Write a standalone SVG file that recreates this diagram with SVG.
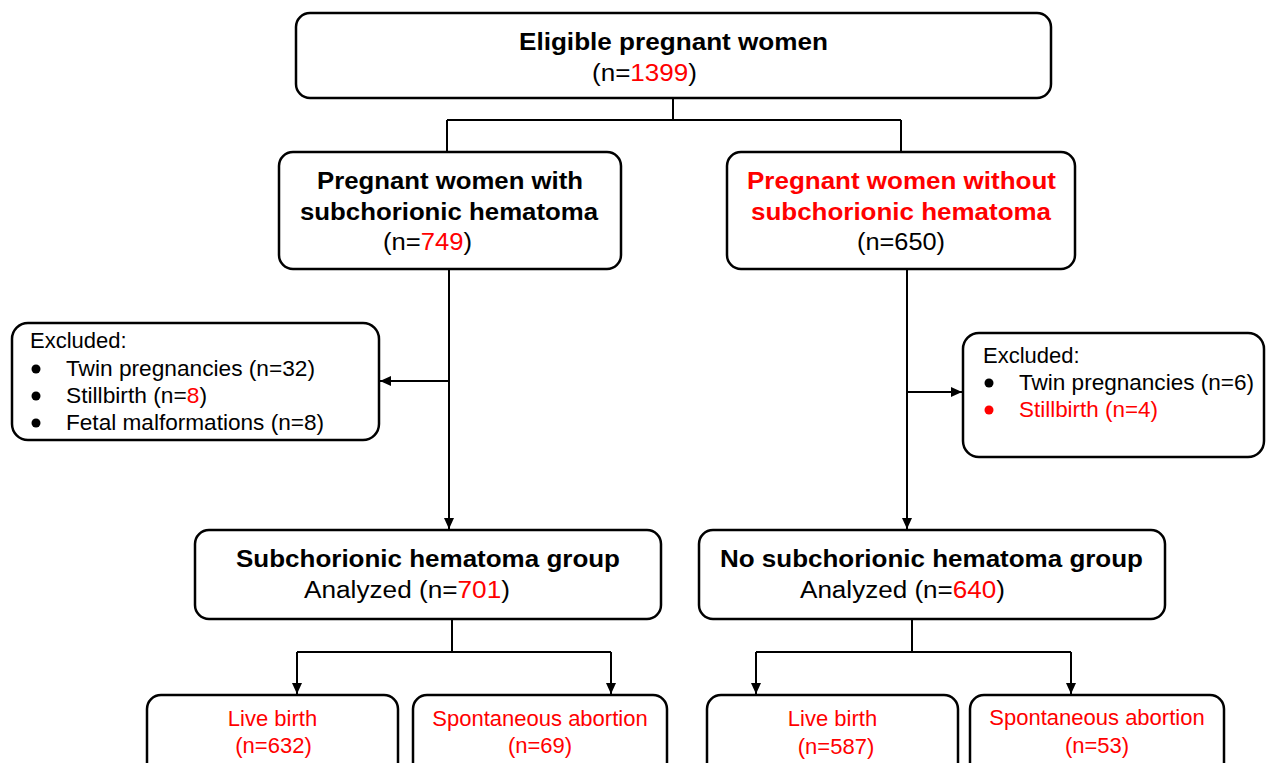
<svg xmlns="http://www.w3.org/2000/svg" width="1266" height="763" viewBox="0 0 1266 763">
<defs>
<style>
.box{fill:#fff;stroke:#000;stroke-width:2.5}
.ln{fill:none;stroke:#000;stroke-width:2}
.arr{marker-end:url(#ah)}
text{font-family:"Liberation Sans",Arial,sans-serif;font-size:22px;fill:#000}
.b{font-weight:bold;font-size:23px}
.m{font-size:23px}
.r{fill:#ff0000}
.c{text-anchor:middle}
</style>
<marker id="ah" markerUnits="userSpaceOnUse" markerWidth="11" markerHeight="10" refX="11" refY="5" orient="auto">
<path d="M0,0 L11,5 L0,10 z" fill="#000"/>
</marker>
</defs>
<rect width="1266" height="763" fill="#fff"/>

<g id="connectors">
<path class="ln" d="M673,98 V120 M447,120 H901 M447,120 V152 M901,120 V152"/>
<path class="ln arr" d="M449,269 V529"/>
<path class="ln arr" d="M449,381 H380"/>
<path class="ln arr" d="M907,269 V529"/>
<path class="ln arr" d="M907,392 H962"/>
<path class="ln" d="M452,619 V652 M297,652 H611 M912,619 V652 M756,652 H1071"/>
<path class="ln arr" d="M297,652 V694"/>
<path class="ln arr" d="M611,652 V694"/>
<path class="ln arr" d="M756,652 V694"/>
<path class="ln arr" d="M1071,652 V694"/>
</g>

<g id="eligible">
<rect class="box" x="296" y="13" width="755" height="85" rx="14"/>
<text class="b" x="519" y="50" textLength="309" lengthAdjust="spacingAndGlyphs">Eligible pregnant women</text>
<text class="m" x="592" y="81" textLength="105" lengthAdjust="spacingAndGlyphs">(n=<tspan class="r">1399</tspan>)</text>
</g>

<g id="with-sch">
<rect class="box" x="279" y="152" width="342" height="117" rx="14"/>
<text class="b" x="317" y="189" textLength="266" lengthAdjust="spacingAndGlyphs">Pregnant women with</text>
<text class="b" x="300" y="220" textLength="298" lengthAdjust="spacingAndGlyphs">subchorionic hematoma</text>
<text class="m" x="383" y="250" textLength="89" lengthAdjust="spacingAndGlyphs">(n=<tspan class="r">749</tspan>)</text>
</g>

<g id="without-sch">
<rect class="box" x="727" y="152" width="348" height="117" rx="14"/>
<text class="b r" x="747" y="189" textLength="309" lengthAdjust="spacingAndGlyphs">Pregnant women without</text>
<text class="b r" x="751" y="220" textLength="300" lengthAdjust="spacingAndGlyphs">subchorionic hematoma</text>
<text class="m" x="857" y="250" textLength="88" lengthAdjust="spacingAndGlyphs">(n=650)</text>
</g>

<g id="excluded-left">
<rect class="box" x="12" y="323" width="367" height="117" rx="16"/>
<text x="30" y="348">Excluded:</text>
<circle cx="36" cy="369" r="4.5" fill="#000"/>
<circle cx="36" cy="396" r="4.5" fill="#000"/>
<circle cx="36" cy="423" r="4.5" fill="#000"/>
<text x="66" y="376" textLength="249" lengthAdjust="spacingAndGlyphs">Twin pregnancies (n=32)</text>
<text x="66" y="403" textLength="141" lengthAdjust="spacingAndGlyphs">Stillbirth (n=<tspan class="r">8</tspan>)</text>
<text x="66" y="430" textLength="258" lengthAdjust="spacingAndGlyphs">Fetal malformations (n=8)</text>
</g>

<g id="excluded-right">
<rect class="box" x="963" y="333" width="301" height="124" rx="16"/>
<text x="983" y="363">Excluded:</text>
<circle cx="989" cy="383" r="4.5" fill="#000"/>
<circle cx="989" cy="410" r="4.5" fill="#ff0000"/>
<text x="1019" y="390" textLength="235" lengthAdjust="spacingAndGlyphs">Twin pregnancies (n=6)</text>
<text class="r" x="1019" y="417" textLength="139" lengthAdjust="spacingAndGlyphs">Stillbirth (n=4)</text>
</g>

<g id="sch-group">
<rect class="box" x="195" y="530" width="466" height="89" rx="14"/>
<text class="b" x="236" y="567" textLength="384" lengthAdjust="spacingAndGlyphs">Subchorionic hematoma group</text>
<text class="m" x="304" y="598" textLength="206" lengthAdjust="spacingAndGlyphs">Analyzed (n=<tspan class="r">701</tspan>)</text>
</g>

<g id="no-sch-group">
<rect class="box" x="699" y="530" width="466" height="89" rx="14"/>
<text class="b" x="720" y="567" textLength="423" lengthAdjust="spacingAndGlyphs">No subchorionic hematoma group</text>
<text class="m" x="800" y="598" textLength="205" lengthAdjust="spacingAndGlyphs">Analyzed (n=<tspan class="r">640</tspan>)</text>
</g>

<g id="sch-live">
<rect class="box" x="147" y="695" width="251" height="95" rx="14"/>
<text class="r c" x="272.5" y="726">Live birth</text>
<text class="r c" x="273.5" y="753">(n=632)</text>
</g>

<g id="sch-abortion">
<rect class="box" x="413" y="695" width="254" height="95" rx="14"/>
<text class="r c" x="540" y="726">Spontaneous abortion</text>
<text class="r c" x="540" y="753">(n=69)</text>
</g>

<g id="nosch-live">
<rect class="box" x="707" y="695" width="251" height="95" rx="14"/>
<text class="r c" x="832.5" y="726">Live birth</text>
<text class="r c" x="836" y="754">(n=587)</text>
</g>

<g id="nosch-abortion">
<rect class="box" x="970" y="695" width="254" height="95" rx="14"/>
<text class="r c" x="1097" y="725">Spontaneous abortion</text>
<text class="r c" x="1097" y="753">(n=53)</text>
</g>
</svg>
